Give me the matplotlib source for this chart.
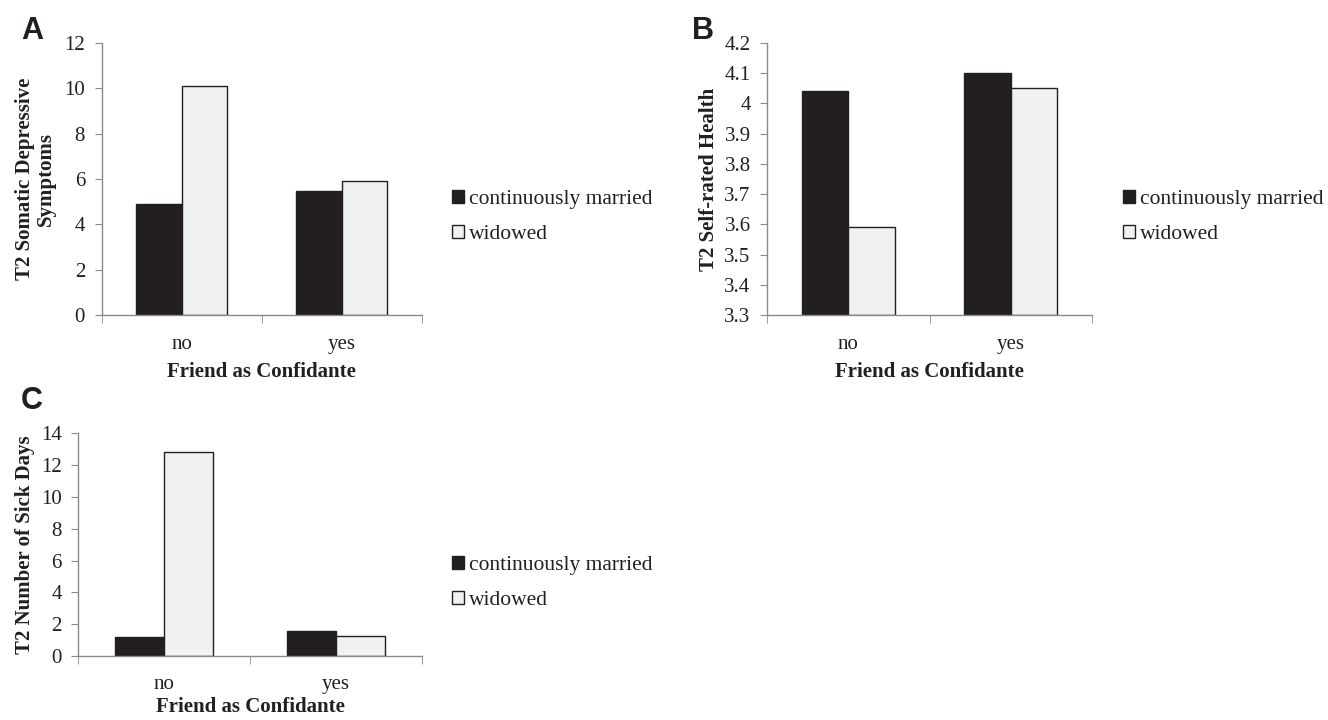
import matplotlib
matplotlib.use("Agg")
import matplotlib.pyplot as plt
import numpy as np
from matplotlib.patches import Patch

categories = ["no", "yes"]
series = ["continuously married", "widowed"]

a_married = [4.9, 5.48]
a_widowed = [10.1, 5.9]
b_married = [4.04, 4.10]
b_widowed = [3.59, 4.05]
c_married = [1.2, 1.6]
c_widowed = [12.85, 1.25]

A_ylabel = "T2 Somatic Depressive\nSymptoms"
B_ylabel = "T2 Self-rated Health"
C_ylabel = "T2 Number of Sick Days"
xlabel = "Friend as Confidante"

plt.rcParams['font.family'] = ['Liberation Serif', 'DejaVu Serif']

BLACK = "#231f20"
LIGHT = "#f0f1f2"
SPINE = "#8a8a8a"
TXT = "#231f20"
FS = 15

fig = plt.figure(figsize=(13.28, 7.2), dpi=100)

def panel(rect, married, widowed, ylim, yticks, yticklabels, ylabel, letter, letter_xy, legend_xy,
          ylabelpad, xlabelpad=6, xtickpad=14.5):
    ax = fig.add_axes(rect)
    x = np.arange(len(categories))
    w = 1 / 3.5
    base = ylim[0]
    ax.bar(x - w / 2, np.array(married) - base, width=w, bottom=base, color=BLACK, edgecolor=BLACK, linewidth=1.0)
    ax.bar(x + w / 2, np.array(widowed) - base, width=w, bottom=base, color=LIGHT, edgecolor=BLACK, linewidth=1.0)
    ax.set_xlim(-0.5, 1.5)
    ax.set_ylim(*ylim)
    ax.set_yticks(yticks)
    ax.set_yticklabels(yticklabels, fontsize=FS, color=TXT)
    ax.set_xticks(x)
    ax.set_xticklabels(categories, fontsize=FS, color=TXT)
    ax.tick_params(axis='x', which='major', length=0, pad=xtickpad)
    ax.set_xticks([-0.5, 0.5, 1.5], minor=True)
    ax.tick_params(axis='x', which='minor', length=6, color=SPINE, direction='out')
    ax.tick_params(axis='y', length=5, color=SPINE, direction='out', pad=7)
    for s in ['top', 'right']:
        ax.spines[s].set_visible(False)
    for s in ['left', 'bottom']:
        ax.spines[s].set_color(SPINE)
        ax.spines[s].set_linewidth(1.0)
    ax.set_xlabel(xlabel, fontsize=FS, fontweight='bold', color=TXT, labelpad=xlabelpad)
    ax.set_ylabel(ylabel, fontsize=FS, fontweight='bold', color=TXT, labelpad=ylabelpad, linespacing=1.05)
    fig.text(letter_xy[0], letter_xy[1], letter, fontsize=22, fontweight='bold', family='Liberation Sans', color=TXT, va='baseline')
    handles = [Patch(facecolor=BLACK, edgecolor=BLACK, label=series[0]),
               Patch(facecolor=LIGHT, edgecolor=BLACK, label=series[1])]
    fig.legend(handles=handles, loc='center left', bbox_to_anchor=legend_xy, frameon=False,
               fontsize=15.5, handlelength=0.55, handleheight=0.55, handletextpad=0.25,
               labelspacing=0.7, borderpad=0, borderaxespad=0, labelcolor=TXT)
    return ax

panel([101.7/1328, 1-315/720, 320/1328, 272/720], a_married, a_widowed, (0, 12),
      [0, 2, 4, 6, 8, 10, 12], ["0", "2", "4", "6", "8", "10", "12"], A_ylabel, "A",
      (21/1328, 1-39/720), (452/1328, 1-217/720), 6)
panel([767.3/1328, 1-315/720, 324.4/1328, 272/720], b_married, b_widowed, (3.3, 4.2),
      [3.3, 3.4, 3.5, 3.6, 3.7, 3.8, 3.9, 4.0, 4.1, 4.2],
      ["3.3", "3.4", "3.5", "3.6", "3.7", "3.8", "3.9", "4", "4.1", "4.2"], B_ylabel, "B",
      (692/1328, 1-39/720), (1123/1328, 1-217/720), 4)
panel([78.3/1328, 1-656/720, 343.4/1328, 222.7/720], c_married, c_widowed, (0, 14),
      [0, 2, 4, 6, 8, 10, 12, 14], ["0", "2", "4", "6", "8", "10", "12", "14"], C_ylabel, "C",
      (21/1328, 1-409/720), (452/1328, 1-583/720), 4, xlabelpad=2.5, xtickpad=13.5)

fig.savefig("out.png", dpi=100, facecolor="white")
